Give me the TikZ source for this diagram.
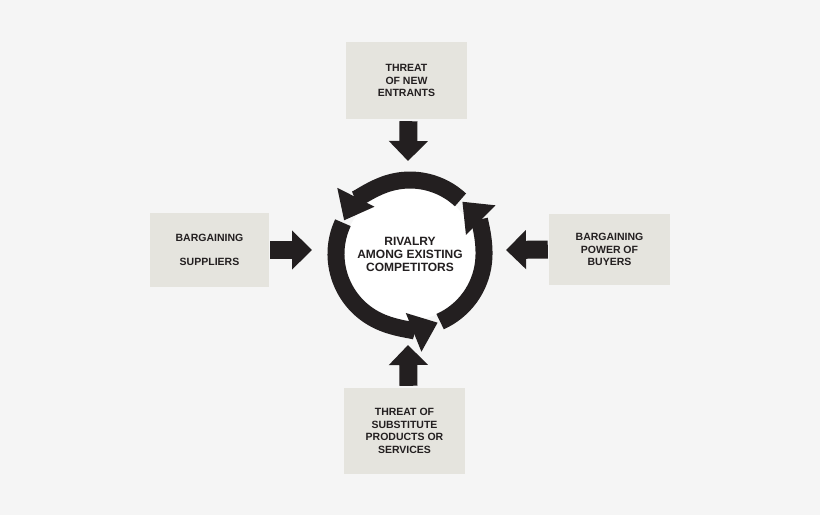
\documentclass[tikz,border=0pt]{standalone}
\usepackage{fontspec}
\setmainfont{Liberation Sans}
\usetikzlibrary{arrows.meta}
\definecolor{bg}{HTML}{F5F5F5}
\definecolor{boxc}{HTML}{E5E4DE}
\definecolor{ink}{HTML}{231F20}
\begin{document}
\begin{tikzpicture}[x=1pt,y=-1pt,
  box/.style={fill=boxc,draw=none,align=center,inner sep=0pt,font=\bfseries\fontsize{10.5}{12.5}\selectfont,text=ink},
  big/.style={draw=ink,line width=18pt,-{Triangle[width=38pt 0,length=20pt 0]}},
  ring/.style={draw=ink,line width=17pt,-{Triangle[width=40pt 0,length=26pt 0]}}]
\fill[bg] (0,0) rectangle (820,515);
\useasboundingbox (0,0) rectangle (820,515);
\node[box,minimum width=121pt,minimum height=77pt] (top) at (406.5,80.5) {THREAT\\OF NEW\\ENTRANTS};
\node[box,minimum width=119pt,minimum height=74pt] (left) at (209.5,250) {BARGAINING\\[12pt]SUPPLIERS};
\node[box,minimum width=121pt,minimum height=71pt] (right) at (609.5,249.5) {BARGAINING\\POWER OF\\BUYERS};
\node[box,minimum width=121pt,minimum height=86pt] (bottom) at (404.5,431) {THREAT OF\\SUBSTITUTE\\PRODUCTS OR\\SERVICES};
\node[circle,fill=white,minimum size=132pt,inner sep=0pt,align=center,font=\bfseries\fontsize{12}{13}\selectfont,text=ink] (c) at (410,254) {RIVALRY\\AMONG EXISTING\\COMPETITORS};
\draw[ring] ([shift={(-47:74)}]c.center) arc[start angle=-47,end angle=-153,radius=74];
\draw[ring] ([shift={(-155:74)}]c.center) arc[start angle=-155,end angle=-292,radius=74];
\draw[ring] ([shift={(-294:74)}]c.center) arc[start angle=-294,end angle=-405,radius=74];
\coordinate (ct) at (408,161);
\coordinate (cl) at (312,250);
\coordinate (cr) at (506,250);
\coordinate (cb) at (408,345);
\draw[big] (top.south) ++(2,2) -- (ct);
\draw[big] (left.east) ++(1,0) -- (cl);
\draw[big] (right.west) ++(-1,0) -- (cr);
\draw[big] (bottom.north) ++(4,-2) -- (cb);
\end{tikzpicture}
\end{document}
